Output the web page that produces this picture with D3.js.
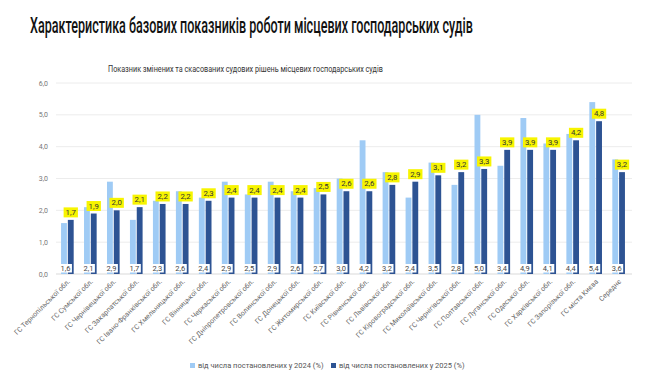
<!DOCTYPE html>
<html>
<head>
<meta charset="utf-8">
<script src="https://cdn.jsdelivr.net/npm/d3@7"></script>
<style>
  body { margin: 0; background: #fff; }
  svg { display: block; font-family: Roboto, "Liberation Sans", sans-serif; }
</style>
</head>
<body>
<div id="chart"></div>
<script>
const categories = [
  'ГС Тернопільської обл.', 'ГС Сумської обл.', 'ГС Чернівецької обл.', 'ГС Закарпатської обл.',
  'ГС Івано-Франківської обл.', 'ГС Хмельницької обл.', 'ГС Вінницької обл.', 'ГС Черкаської обл.',
  'ГС Дніпропетровської обл.', 'ГС Волинської обл.', 'ГС Донецької обл.', 'ГС Житомирської обл.',
  'ГС Київської обл.', 'ГС Рівненської обл.', 'ГС Львівської обл.', 'ГС Кіровоградської обл.',
  'ГС Миколаївської обл.', 'ГС Чернігівської обл.', 'ГС Полтавської обл.', 'ГС Луганської обл.',
  'ГС Одеської обл.', 'ГС Харківської обл.', 'ГС Запорізької обл.', 'ГС міста Києва', 'Середнє'
];
const values2024 = [1.6, 2.1, 2.9, 1.7, 2.3, 2.6, 2.4, 2.9, 2.5, 2.9, 2.6, 2.7, 3.0, 4.2, 3.2, 2.4, 3.5, 2.8, 5.0, 3.4, 4.9, 4.1, 4.4, 5.4, 3.6];
const values2025 = [1.7, 1.9, 2.0, 2.1, 2.2, 2.2, 2.3, 2.4, 2.4, 2.4, 2.4, 2.5, 2.6, 2.6, 2.8, 2.9, 3.1, 3.2, 3.3, 3.9, 3.9, 3.9, 4.2, 4.8, 3.2];
const seriesNames = ['від числа постановлених у 2024 (%)', 'від числа постановлених у 2025 (%)'];
const yTicks = [0, 1, 2, 3, 4, 5, 6];

const width = 658, height = 389;
const margin = { top: 83, right: 28, bottom: 115, left: 56 };
const colors = ['#9fcbf5', '#2d5393'];

const locale = d3.formatLocale({ decimal: ',', thousands: ' ', grouping: [3], currency: ['', ''] });
const fmt = locale.format('.1f');

const data = categories.map((c, i) => ({ label: c, v: [values2024[i], values2025[i]] }));

const svg = d3.select('#chart').append('svg')
  .attr('width', width)
  .attr('height', height);

// title, squeezed horizontally to look like the condensed face of the original
const title = svg.append('text')
  .attr('x', 0).attr('y', 0)
  .style('font-size', '22px').style('font-weight', 500)
  .style('fill', '#111')
  .text('Характеристика базових показників роботи місцевих господарських судів');
const tw = title.node().getComputedTextLength();
title.attr('transform', `translate(30,33) scale(${443 / tw},1)`);

const sub = svg.append('text')
  .attr('x', 0).attr('y', 0)
  .style('font-size', '9.5px').style('fill', '#333')
  .text('Показник змінених та скасованих судових рішень місцевих господарських судів');
const sw = sub.node().getComputedTextLength();
sub.attr('transform', `translate(108,72) scale(${275 / sw},1)`);

const x = d3.scaleBand()
  .domain(categories)
  .range([margin.left, width - margin.right])
  .paddingInner(0.45).paddingOuter(0.22);

const xSub = d3.scaleBand()
  .domain([0, 1])
  .range([0, x.bandwidth()])
  .paddingInner(0.14);

const y = d3.scaleLinear()
  .domain([0, 6])
  .range([height - margin.bottom, margin.top]);

// grid
const g = svg.append('g');
g.selectAll('line.grid')
  .data(yTicks)
  .enter().append('line')
  .attr('class', 'grid')
  .attr('x1', margin.left).attr('x2', width - margin.right + 2)
  .attr('y1', d => y(d)).attr('y2', d => y(d))
  .attr('stroke', d => d === 0 ? '#d9d9d9' : '#ececec')
  .attr('stroke-width', 1);

g.selectAll('text.ytick')
  .data(yTicks)
  .enter().append('text')
  .attr('x', 48).attr('y', d => y(d) + 2.5)
  .attr('text-anchor', 'end')
  .style('font-size', '7px').style('fill', '#777')
  .text(d => fmt(d));

// bars
const groups = svg.selectAll('.grp')
  .data(data)
  .enter().append('g')
  .attr('class', 'grp')
  .attr('transform', d => `translate(${x(d.label)},0)`);

groups.selectAll('rect.bar')
  .data(d => d.v.map((v, k) => ({ k, v })))
  .enter().append('rect')
  .attr('class', 'bar')
  .attr('x', d => xSub(d.k))
  .attr('width', xSub.bandwidth())
  .attr('y', d => y(d.v))
  .attr('height', d => y(0) - y(d.v))
  .attr('fill', d => colors[d.k]);

groups.each(function (d) {
  const grp = d3.select(this);
  // 2024 labels: white boxes at the bottom
  const cx = xSub(0) + xSub.bandwidth() / 2 + 1.5;
  const t = grp.append('text')
    .attr('x', cx).attr('y', y(0) - 3.5)
    .attr('text-anchor', 'middle')
    .style('font-size', '7.5px').style('fill', '#444')
    .text(fmt(d.v[0]));
  const w = t.node().getComputedTextLength() + 3;
  grp.insert('rect', 'text')
    .attr('x', cx - w / 2).attr('y', y(0) - 10)
    .attr('width', w).attr('height', 8.5)
    .attr('fill', '#fff');

  // 2025 labels: yellow boxes above bar
  const cx2 = xSub(1) + xSub.bandwidth() / 2;
  const top = y(d.v[1]);
  const t2 = grp.append('text')
    .attr('x', cx2).attr('y', top - 5)
    .attr('text-anchor', 'middle')
    .style('font-size', '7.8px').style('fill', '#333')
    .text(fmt(d.v[1]));
  const w2 = t2.node().getComputedTextLength() + 4;
  grp.insert('rect', 'text:last-of-type')
    .attr('x', cx2 - w2 / 2).attr('y', top - 12.5)
    .attr('width', w2).attr('height', 10)
    .attr('fill', '#f7f400');
});

// x labels
svg.selectAll('text.xlab')
  .data(categories)
  .enter().append('text')
  .attr('class', 'xlab')
  .attr('text-anchor', 'end')
  .attr('transform', d => `translate(${x(d) + x.bandwidth() / 2 + 3},${y(0) + 8}) rotate(-45)`)
  .style('font-size', '7px').style('fill', '#666')
  .text(d => d);

// legend
const legend = svg.append('g').attr('transform', 'translate(190,368)');
const legX = [0, 141];
seriesNames.forEach((name, i) => {
  legend.append('rect')
    .attr('x', legX[i]).attr('y', -5)
    .attr('width', 5).attr('height', 5)
    .attr('fill', colors[i]);
  legend.append('text')
    .attr('x', legX[i] + 8).attr('y', 0)
    .style('font-size', '7.5px').style('fill', '#555')
    .text(name);
});
</script>
</body>
</html>
